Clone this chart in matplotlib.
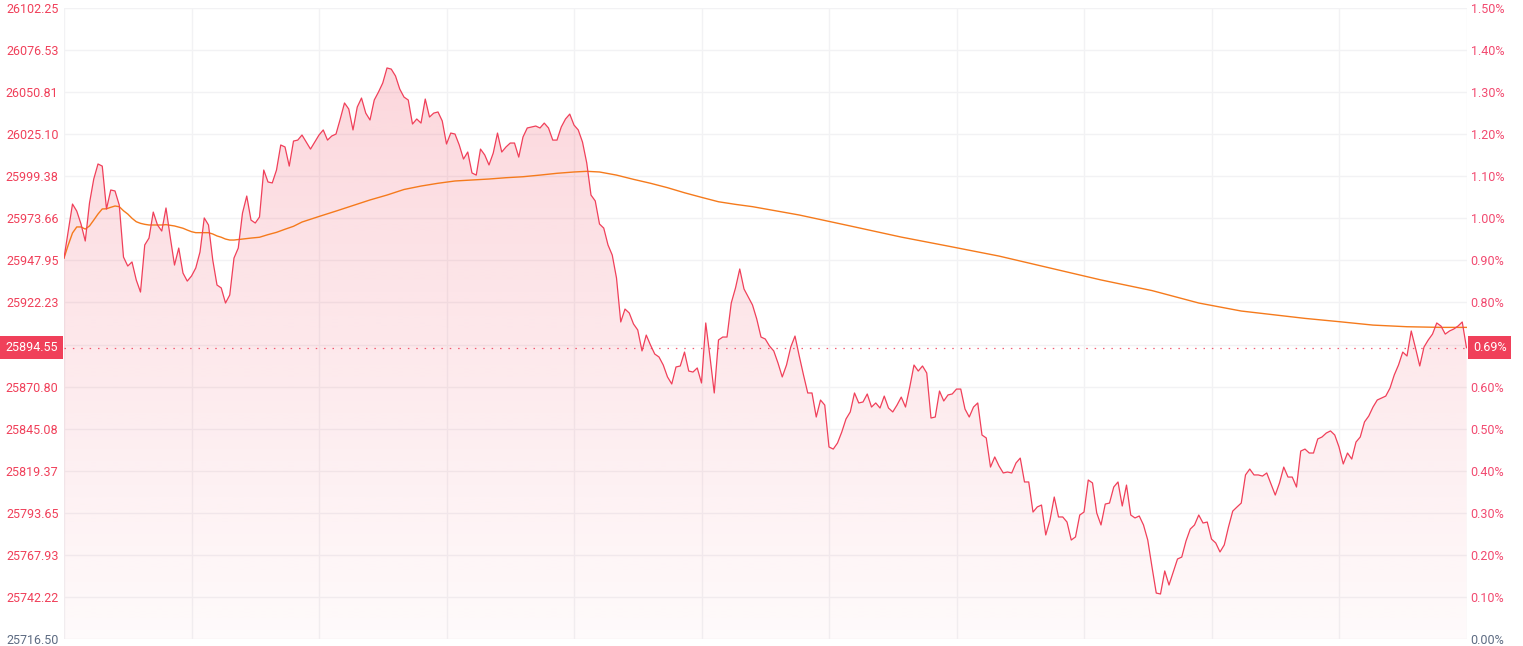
# plot.py
# Intraday index chart: price line with gradient fill, day average line,
# price axis on the left and percent change axis on the right.

import matplotlib
matplotlib.use('Agg')
import matplotlib.pyplot as plt
import numpy as np

plt.rcParams['font.family'] = ['Roboto', 'DejaVu Sans']

# ---- data (one point per minute) ----
prices = [
  25949.4, 25965.9, 25982.4, 25978.1, 25970.2, 25959.8, 25983.0, 25997.7, 26006.9, 26005.6,
  25979.4, 25991.0, 25990.4, 25981.8, 25950.0, 25944.5, 25947.0, 25936.0, 25928.6, 25957.4,
  25961.6, 25977.5, 25969.6, 25965.9, 25980.0, 25962.2, 25945.1, 25955.5, 25940.2, 25935.3,
  25938.4, 25943.3, 25953.1, 25973.9, 25969.6, 25948.2, 25932.9, 25931.1, 25921.9, 25926.8,
  25949.4, 25955.5, 25976.9, 25987.3, 25972.6, 25970.8, 25974.5, 26003.2, 25995.9, 25995.3,
  26003.2, 26018.5, 26017.3, 26005.6, 26020.9, 26021.5, 26024.6, 26020.3, 26016.0, 26020.3,
  26024.6, 26027.7, 26021.5, 26024.0, 26025.2, 26034.4, 26044.2, 26040.5, 26027.7, 26041.7,
  26047.2, 26038.0, 26033.8, 26046.0, 26050.9, 26056.4, 26065.6, 26064.9, 26060.7, 26052.7,
  26047.8, 26046.0, 26031.3, 26034.4, 26031.9, 26046.6, 26035.6, 26038.0, 26038.7, 26033.2,
  26019.1, 26025.8, 26025.2, 26018.5, 26009.9, 26014.2, 26001.4, 26000.1, 26016.0, 26012.4,
  26006.3, 26013.6, 26025.8, 26014.2, 26017.3, 26019.7, 26019.7, 26011.1, 26023.4, 26028.9,
  26029.5, 26030.1, 26028.9, 26031.9, 26028.9, 26021.5, 26021.5, 26029.5, 26034.4, 26037.4,
  26030.7, 26027.7, 26020.3, 26007.5, 25987.9, 25984.3, 25970.2, 25967.7, 25957.4, 25951.2,
  25937.2, 25910.3, 25918.2, 25915.8, 25909.1, 25905.4, 25892.6, 25902.3, 25896.2, 25890.7,
  25888.9, 25884.0, 25876.7, 25872.4, 25882.8, 25883.4, 25891.9, 25880.3, 25879.7, 25882.2,
  25873.0, 25909.7, 25888.9, 25866.9, 25899.3, 25901.1, 25901.1, 25921.9, 25931.1, 25942.7,
  25930.5, 25925.6, 25920.7, 25912.1, 25901.1, 25899.9, 25895.6, 25892.6, 25885.2, 25876.7,
  25884.0, 25895.0, 25901.7, 25889.5, 25877.9, 25866.9, 25866.9, 25852.2, 25862.6, 25859.5,
  25833.9, 25832.6, 25836.3, 25843.0, 25851.0, 25855.3, 25866.9, 25860.8, 25861.4, 25866.3,
  25858.3, 25860.8, 25857.7, 25865.0, 25857.7, 25855.3, 25859.5, 25864.4, 25858.3, 25870.5,
  25884.0, 25880.3, 25883.4, 25879.1, 25851.6, 25852.2, 25868.1, 25862.0, 25865.7, 25866.3,
  25869.3, 25869.3, 25857.1, 25852.2, 25858.3, 25860.8, 25841.2, 25839.4, 25821.6, 25827.8,
  25822.3, 25818.0, 25818.6, 25818.0, 25824.1, 25827.1, 25812.5, 25812.5, 25794.1, 25797.2,
  25798.4, 25780.1, 25789.2, 25803.3, 25791.1, 25791.1, 25788.0, 25777.0, 25778.9, 25792.3,
  25794.1, 25813.7, 25811.9, 25793.5, 25786.2, 25799.0, 25799.6, 25809.4, 25812.5, 25797.8,
  25810.6, 25792.3, 25790.5, 25791.7, 25786.2, 25777.0, 25760.5, 25744.6, 25744.0, 25758.1,
  25749.5, 25757.5, 25765.4, 25766.6, 25776.4, 25783.7, 25786.2, 25792.3, 25787.4, 25788.0,
  25777.6, 25775.2, 25769.7, 25774.0, 25785.0, 25794.7, 25797.2, 25799.6, 25816.8, 25820.4,
  25816.8, 25816.8, 25816.1, 25818.0, 25811.3, 25804.5, 25811.9, 25821.6, 25815.5, 25815.5,
  25809.4, 25831.4, 25832.6, 25830.2, 25830.2, 25838.8, 25840.0, 25842.4, 25843.7, 25841.2,
  25833.9, 25823.5, 25830.2, 25826.5, 25836.9, 25840.0, 25849.2, 25852.8, 25858.3, 25862.6,
  25863.8, 25865.0, 25869.9, 25877.9, 25884.0, 25891.9, 25889.5, 25904.8, 25894.4, 25883.4,
  25895.0, 25899.3, 25902.9, 25909.7, 25907.8, 25902.9, 25904.8, 25906.0, 25907.8, 25910.3,
  25894.55,
]

# day average line, read at a subset of minutes
avg_minute = [0, 1, 2, 3, 4, 5, 6, 7, 8, 9, 10, 11, 12, 13, 14, 15, 16, 17, 18, 19,
              20, 23, 24, 26, 28, 29, 30, 31, 34, 35, 36, 37, 38, 39, 40, 42, 44, 46,
              48, 50, 52, 54, 56, 60, 64, 68, 72, 76, 80, 84, 88, 92, 96, 100, 104,
              108, 112, 116, 120, 123, 126, 130, 134, 138, 142, 146, 150, 154, 158,
              162, 173, 185, 197, 208, 220, 232, 244, 256, 267, 277, 285, 292, 300,
              308, 316, 324, 330]
avg_price = [25949.4, 25957.4, 25964.7, 25968.4, 25968.4, 25967.1, 25969.0, 25972.6,
             25976.3, 25979.4, 25979.5, 25980.4, 25981.2, 25980.8, 25978.3, 25976.3,
             25973.7, 25971.6, 25970.6, 25970.0, 25969.6, 25969.6, 25969.8, 25969.0,
             25967.6, 25966.5, 25965.5, 25964.9, 25964.9, 25964.1, 25962.9, 25962.1,
             25961.0, 25960.4, 25960.4, 25961.0, 25961.6, 25962.1, 25963.7, 25965.1,
             25967.0, 25968.8, 25971.4, 25974.8, 25978.1, 25981.5, 25984.9, 25987.9,
             25991.3, 25993.4, 25995.1, 25996.5, 25997.1, 25997.7, 25998.5, 25999.1,
             26000.1, 26001.2, 26002.0, 26002.4, 26002.0, 26000.1, 25997.5, 25995.1,
             25992.4, 25989.3, 25986.5, 25983.8, 25982.2, 25980.8, 25975.7, 25969.0,
             25962.2, 25956.7, 25950.6, 25943.3, 25936.0, 25929.5, 25921.9, 25917.0,
             25914.6, 25912.5, 25910.5, 25908.4, 25907.4, 25907.0, 25907.0]

base_price = 25716.50   # 0.00 % reference
close_price = 25894.55
close_pct = '0.69%'

price_ticks = [25716.50, 25742.22, 25767.93, 25793.65, 25819.37, 25845.08, 25870.80,
               25896.52, 25922.23, 25947.95, 25973.66, 25999.38, 26025.10, 26050.81,
               26076.53, 26102.25]
price_labels = ['25716.50', '25742.22', '25767.93', '25793.65', '25819.37', '25845.08',
                '25870.80', '', '25922.23', '25947.95', '25973.66', '25999.38',
                '26025.10', '26050.81', '26076.53', '26102.25']
pct_labels = ['0.00%', '0.10%', '0.20%', '0.30%', '0.40%', '0.50%', '0.60%', '',
              '0.80%', '0.90%', '1.00%', '1.10%', '1.20%', '1.30%', '1.40%', '1.50%']
minute_grid = [0, 30, 60, 90, 120, 150, 180, 210, 240, 270, 300, 330]

# ---- colours ----
red = '#f0405a'
orange = '#f57a1c'
grid_col = '#f2f2f4'
flat_col = '#5d6b82'

x = np.arange(len(prices))
y = np.array(prices)

fig = plt.figure(figsize=(15.23, 6.46), dpi=100)
ax = fig.add_axes([64 / 1523, 7 / 646, 1402.5 / 1523, 631 / 646])

# grid
for m in minute_grid:
  ax.axvline(m, color=grid_col, lw=1.0, zorder=0)
for t in price_ticks:
  ax.axhline(t, color=grid_col, lw=1.0, zorder=0)

# gradient fill under the price line
poly = ax.fill_between(x, y, base_price, facecolor='none', edgecolor='none')
clip = poly.get_paths()[0]
alpha = np.linspace(0.21, 0.025, 256)[:, None]
rgba = np.zeros((256, 1, 4))
rgba[..., 0] = 240 / 255
rgba[..., 1] = 64 / 255
rgba[..., 2] = 90 / 255
rgba[..., 3] = alpha
im = ax.imshow(rgba, extent=[0, len(prices) - 1, base_price, y.max()],
               aspect='auto', origin='upper', zorder=1, interpolation='bilinear')
im.set_clip_path(clip, transform=ax.transData)

# previous close dotted line
ax.axhline(close_price, color=red, lw=0.9, linestyle=(0, (1.2, 5.5)), alpha=0.85, zorder=2)

# lines
ax.plot(avg_minute, avg_price, color=orange, lw=1.0, zorder=3)
ax.plot(x, y, color=red, lw=0.9, zorder=4)

ax.set_xlim(0, len(prices) - 1)
ax.set_ylim(price_ticks[0], price_ticks[-1])
for s in ax.spines.values():
  s.set_visible(False)
ax.set_xticks([])
ax.set_yticks(price_ticks)
ax.set_yticklabels(price_labels)
ax.tick_params(axis='y', length=0, pad=4, labelsize=9, labelcolor=red)
ax.get_yticklabels()[0].set_color(flat_col)

# right axis with percent change
ax2 = ax.twinx()
ax2.set_ylim(ax.get_ylim())
ax2.set_yticks(price_ticks)
ax2.set_yticklabels(pct_labels)
ax2.tick_params(axis='y', length=0, pad=3, labelsize=9, labelcolor='#f24a70')
ax2.get_yticklabels()[0].set_color(flat_col)
for s in ax2.spines.values():
  s.set_visible(False)

# close price boxes on both sides
ax.text(-0.0045, close_price, f'{close_price:.2f}', transform=ax.get_yaxis_transform(),
        ha='right', va='center', fontsize=9, color='white', zorder=6,
        bbox=dict(boxstyle='square,pad=0.4', fc=red, ec='none'))
ax.text(1.0045, close_price, close_pct, transform=ax.get_yaxis_transform(),
        ha='left', va='center', fontsize=9, color='white', zorder=6, clip_on=False,
        bbox=dict(boxstyle='square,pad=0.4', fc=red, ec='none'))

fig.savefig('out.png', dpi=100)
